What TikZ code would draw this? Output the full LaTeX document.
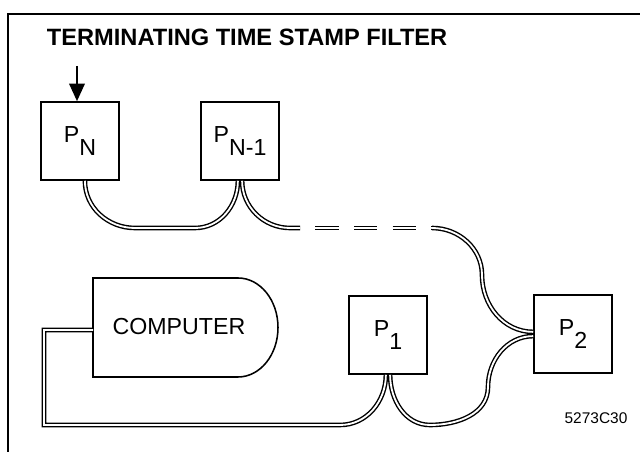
\documentclass[tikz,border=0pt]{standalone}
\usepackage{fontspec}
\setmainfont{Liberation Sans}
\usepackage{tikz}
\usetikzlibrary{arrows.meta}

\newcommand{\lowsub}[1]{\raisebox{-0.53em}{#1}}

\begin{document}
\begin{tikzpicture}[x=0.025cm,y=0.025cm,
    proc/.style={draw,line width=1.1pt,minimum size=1.95cm,inner sep=0pt,
        font=\fontsize{16.5}{19}\selectfont},
    cable/.style={line width=1pt,double=white,double distance=1.3pt},
    broken/.style={cable,dash pattern=on 16.4pt off 11pt,dash phase=16.4pt}]
    \useasboundingbox (0,0) rectangle (640,452);
    \draw[line width=1.2pt] (8,-10) -- (8,438) -- (650,438);
    \node[anchor=base west,font=\fontsize{16.8}{20}\selectfont\bfseries] (title) at (42,406)
        {TERMINATING TIME STAMP FILTER};

    \node[proc] (pn) at (80,311) {P\lowsub{N}};
    \node[proc] (pnm) at (240,311) {P\lowsub{N-1}};
    \node[proc] (p1) at (388,117) {P\lowsub{1}};
    \node[proc] (p2) at (573,118) {P\lowsub{2}};

    \draw[line width=1.1pt] (93,174) -- (238,174)
        .. controls (260,174) and (278,152) .. (278,124.5)
        .. controls (278,97) and (260,75) .. (238,75) -- (93,75) -- cycle;
    \node[font=\fontsize{16.5}{19}\selectfont] (cpu) at (179,125) {COMPUTER};
    \coordinate (cpuin) at (93,122);

    \coordinate (feed) at (77,386);
    \draw[-{Triangle[width=11pt,length=12.5pt]},line width=1.5pt] (feed) -- (feed |- pn.north);

    \draw[cable] ([xshift=3.5pt]pn.south) to[out=-90,in=180] (135,224) -- (195,224)
        to[out=0,in=-90] ([xshift=-1.5pt]pnm.south);
    \draw[cable] ([xshift=1.5pt]pnm.south) to[out=-90,in=180] (290,224) -- (300,224);
    \draw[broken] (300,224) -- (432,224);
    \draw[cable] (432,224) to[out=0,in=90] (482,177) to[out=-90,in=180] ([yshift=1.5pt]p2.west);
    \draw[cable] ([yshift=-1.5pt]p2.west) to[out=180,in=90] (488,65) to[out=-90,in=0] (430,27)
        to[out=180,in=-90] ([xshift=1.5pt]p1.south);
    \draw[cable] ([xshift=-1.5pt]p1.south) to[out=-90,in=0] (340,27) -- (44,27) -- (44,122) -- (cpuin);

    \node[font=\fontsize{11}{12}\selectfont] (tag) at (596,34) {5273C30};
\end{tikzpicture}
\end{document}
